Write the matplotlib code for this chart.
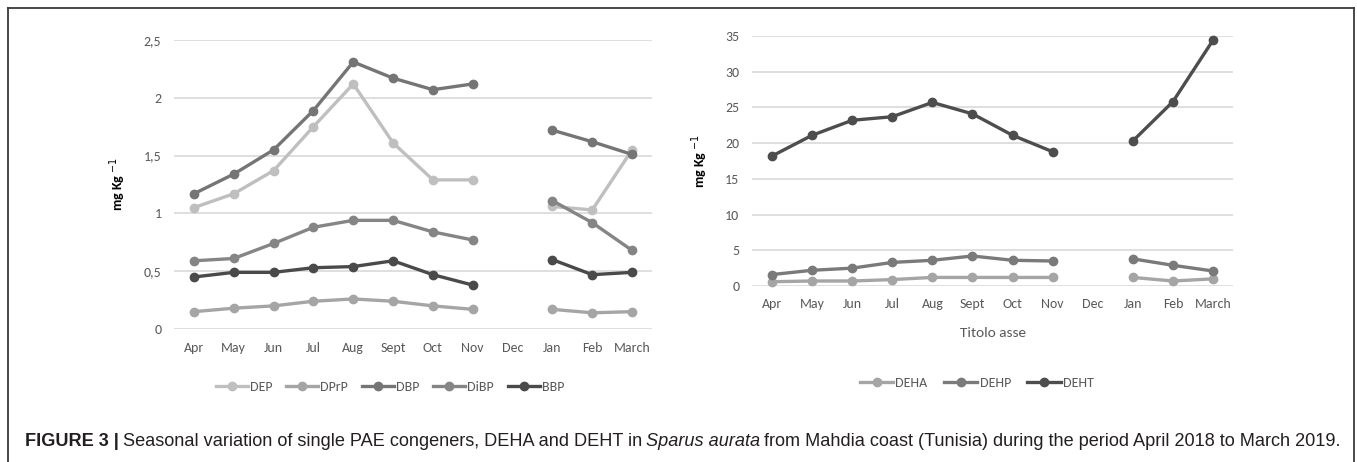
import numpy as np
import matplotlib
matplotlib.use("Agg")
import matplotlib.pyplot as plt
from matplotlib import font_manager
from matplotlib.lines import Line2D
from matplotlib.ticker import FuncFormatter

# ---------------- data ----------------
months = ["Apr", "May", "Jun", "Jul", "Aug", "Sept", "Oct", "Nov", "Dec", "Jan", "Feb", "March"]
nan = np.nan

dep  = [1.05, 1.17, 1.37, 1.75, 2.12, 1.61, 1.29, 1.29, nan, 1.06, 1.03, 1.55]
dprp = [0.15, 0.18, 0.20, 0.24, 0.26, 0.24, 0.20, 0.17, nan, 0.17, 0.14, 0.15]
dbp  = [1.17, 1.34, 1.55, 1.89, 2.31, 2.17, 2.07, 2.12, nan, 1.72, 1.62, 1.51]
dibp = [0.59, 0.61, 0.74, 0.88, 0.94, 0.94, 0.84, 0.77, nan, 1.11, 0.92, 0.68]
bbp  = [0.45, 0.49, 0.49, 0.53, 0.54, 0.59, 0.47, 0.38, nan, 0.60, 0.47, 0.49]

deha = [0.6, 0.7, 0.7, 0.9, 1.2, 1.2, 1.2, 1.2, nan, 1.2, 0.7, 1.0]
dehp = [1.6, 2.2, 2.5, 3.3, 3.6, 4.2, 3.6, 3.5, nan, 3.8, 2.9, 2.1]
deht = [18.2, 21.1, 23.2, 23.7, 25.7, 24.1, 21.1, 18.8, nan, 20.3, 25.8, 34.4]

left_names = ["DEP", "DPrP", "DBP", "DiBP", "BBP"]
left_values = [dep, dprp, dbp, dibp, bbp]
left_colors = ["#bfbfbf", "#a5a5a5", "#757575", "#858585", "#4a4a4a"]

right_names = ["DEHA", "DEHP", "DEHT"]
right_values = [deha, dehp, deht]
right_colors = ["#a5a5a5", "#7a7a7a", "#4d4d4d"]

left_yticks = [0, 0.5, 1, 1.5, 2, 2.5]
right_yticks = [0, 5, 10, 15, 20, 25, 30, 35]

caption_bold = "FIGURE 3 |"
caption_a = "Seasonal variation of single PAE congeners, DEHA and DEHT in"
caption_it = "Sparus aurata"
caption_b = "from Mahdia coast (Tunisia) during the period April 2018 to March 2019."

# ---------------- fonts ----------------
avail = {f.name for f in font_manager.fontManager.ttflist}
chart_font = "DejaVu Sans"
for cand in ["Liberation Sans Narrow", "Carlito", "Roboto Condensed", "Open Sans Condensed", "Lato", "Liberation Sans"]:
    if cand in avail:
        chart_font = cand
        break
cap_font = "Liberation Sans" if "Liberation Sans" in avail else "DejaVu Sans"

W, H = 1357, 462
fig = plt.figure(figsize=(W / 100, H / 100), dpi=100)
fig.patch.set_facecolor("white")

def fx(px):
    return px / W

def fy(py):
    return 1 - py / H

tick_color = "#595959"
grid_color = "#d9d9d9"
tick_size = 10

def style_axes(ax, yticks, ymax, fmt):
    ax.set_xlim(-0.5, len(months) - 0.5)
    ax.set_ylim(0, ymax)
    ax.set_xticks(range(len(months)))
    ax.set_xticklabels(months)
    ax.set_yticks(yticks)
    ax.yaxis.set_major_formatter(FuncFormatter(fmt))
    for s in ax.spines.values():
        s.set_visible(False)
    ax.tick_params(axis="both", length=0, colors=tick_color, labelsize=tick_size)
    ax.tick_params(axis="y", pad=9)
    ax.tick_params(axis="x", pad=9)
    for lab in ax.get_xticklabels() + ax.get_yticklabels():
        lab.set_fontfamily(chart_font)
    ax.grid(axis="y", color=grid_color, linewidth=1.2)
    ax.set_axisbelow(True)

def comma_fmt(v, pos):
    s = ("%g" % v)
    return s.replace(".", ",")

# ---------------- left panel ----------------
axL = fig.add_axes([fx(174), fy(329), fx(652) - fx(174), fy(40) - fy(329)])
x = np.arange(len(months))
handlesL = []
for name, vals, col in zip(left_names, left_values, left_colors):
    h, = axL.plot(x, vals, color=col, linewidth=2.4, marker="o", markersize=6,
                  markerfacecolor=col, markeredgecolor=col, label=name, clip_on=False)
    handlesL.append(h)
style_axes(axL, left_yticks, 2.5, comma_fmt)
axL.set_ylabel("mg Kg $^{-1}$", fontsize=10, fontweight="bold", color="black", family=chart_font)
axL.yaxis.set_label_coords((128 - 174) / 478, 0.5)

# ---------------- right panel ----------------
axR = fig.add_axes([fx(752), fy(286), fx(1233) - fx(752), fy(36) - fy(286)])
handlesR = []
for name, vals, col in zip(right_names, right_values, right_colors):
    h, = axR.plot(x, vals, color=col, linewidth=2.4, marker="o", markersize=6,
                  markerfacecolor=col, markeredgecolor=col, label=name, clip_on=False)
    handlesR.append(h)
style_axes(axR, right_yticks, 35, lambda v, p: "%d" % v)
axR.set_ylabel("mg Kg $^{-1}$", fontsize=10, fontweight="bold", color="black", family=chart_font)
axR.yaxis.set_label_coords((710 - 752) / 481, 0.5)
axR.set_xlabel("Titolo asse", fontsize=11, color=tick_color, family=chart_font)
axR.xaxis.set_label_coords(0.5, (286 - 333) / 250)
axR.xaxis.label.set_va("center")

# ---------------- legends ----------------
legL = fig.legend(handles=handlesL, labels=left_names, loc="center left",
                  bbox_to_anchor=(fx(209), fy(387)), ncol=5, frameon=False,
                  borderpad=0, handlelength=2.3, handletextpad=0.15, columnspacing=1.0,
                  prop={"family": chart_font, "size": 10})
for t in legL.get_texts():
    t.set_color(tick_color)
legR = fig.legend(handles=handlesR, labels=right_names, loc="center left",
                  bbox_to_anchor=(fx(853), fy(383)), ncol=3, frameon=False,
                  borderpad=0, handlelength=2.4, handletextpad=0.15, columnspacing=1.2,
                  prop={"family": chart_font, "size": 10})
for t in legR.get_texts():
    t.set_color(tick_color)

# ---------------- caption ----------------
cap_size = 13.05
cap_color = "#231f20"
t0 = fig.text(fx(25), fy(441), caption_bold, fontsize=cap_size, fontweight="bold",
              family=cap_font, color=cap_color, va="center", ha="left")
t1 = fig.text(0, 0, caption_a, fontsize=cap_size, family=cap_font, color=cap_color,
              va="center", ha="left")
t2 = fig.text(0, 0, caption_it, fontsize=cap_size, family=cap_font, style="italic",
              color=cap_color, va="center", ha="left")
t3 = fig.text(0, 0, caption_b, fontsize=cap_size, family=cap_font, color=cap_color,
              va="center", ha="left")
fig.canvas.draw()
r = fig.canvas.get_renderer()
space = 4
prev = t0
for t in (t1, t2, t3):
    bb = prev.get_window_extent(r)
    t.set_position(((bb.x1 + space) / W, fy(441)))
    fig.canvas.draw()
    prev = t

# ---------------- frame ----------------
fcol = "#3a3a3a"
fig.add_artist(Line2D([fx(7.5), fx(7.5)], [fy(7.5), -0.01], color=fcol, linewidth=1.3))
fig.add_artist(Line2D([fx(7.5), fx(1354)], [fy(7.5), fy(7.5)], color=fcol, linewidth=1.3))
fig.add_artist(Line2D([fx(1354), fx(1354)], [fy(7.5), -0.01], color=fcol, linewidth=1.3))

fig.savefig("out.png", dpi=100, facecolor="white")
